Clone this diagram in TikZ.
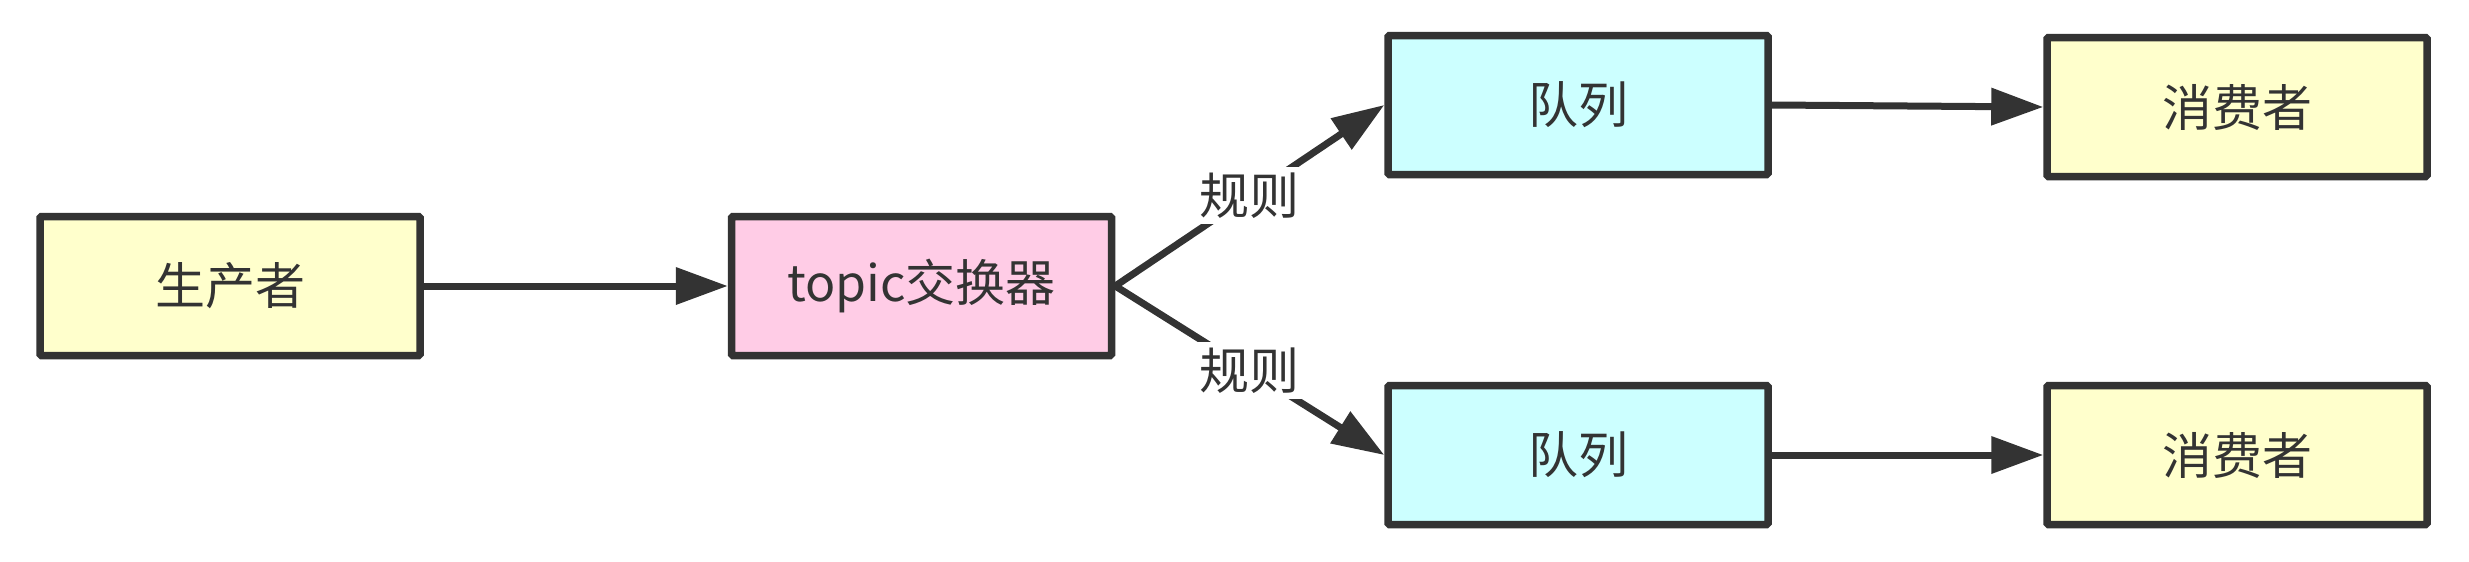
\documentclass[tikz,border=0pt]{standalone}
\usepackage{fontspec}
\setmainfont{Noto Sans CJK SC}
\usetikzlibrary{arrows.meta}
\definecolor{ln}{HTML}{333333}
\definecolor{yel}{HTML}{FFFFCC}
\definecolor{pnk}{HTML}{FFCCE6}
\definecolor{cyn}{HTML}{CCFFFF}
\begin{document}
\begin{tikzpicture}[x=1pt,y=-1pt,
  box/.style={draw=ln, line width=7.5pt, rounded corners=1.5pt, minimum width=380pt, minimum height=139pt, inner sep=0pt, font=\fontsize{50}{60}\selectfont, text=ln},
  conn/.style={draw=ln, line width=7pt, -{Triangle[length=52pt,width=36pt]}},
  lbl/.style={fill=white, inner sep=6pt, font=\fontsize{50}{60}\selectfont, text=ln}]
\useasboundingbox (0,0) rectangle (2469,562);
\node[box, fill=yel] (p) at (230,286) {生产者};
\node[box, fill=pnk] (t) at (921.5,286) {topic交换器};
\node[box, fill=cyn] (q1) at (1578,105) {队列};
\node[box, fill=yel] (c1) at (2237,107) {消费者};
\node[box, fill=cyn] (q2) at (1578,455) {队列};
\node[box, fill=yel] (c2) at (2237,455) {消费者};
\draw[conn] (p.east) -- (t.west);
\draw[conn] (t.east) -- node[lbl] (l1) {规则} (q1.west);
\draw[conn] (t.east) -- node[lbl] (l2) {规则} (q2.west);
\draw[conn] (q1.east) -- (c1.west);
\draw[conn] (q2.east) -- (c2.west);
\end{tikzpicture}
\end{document}
